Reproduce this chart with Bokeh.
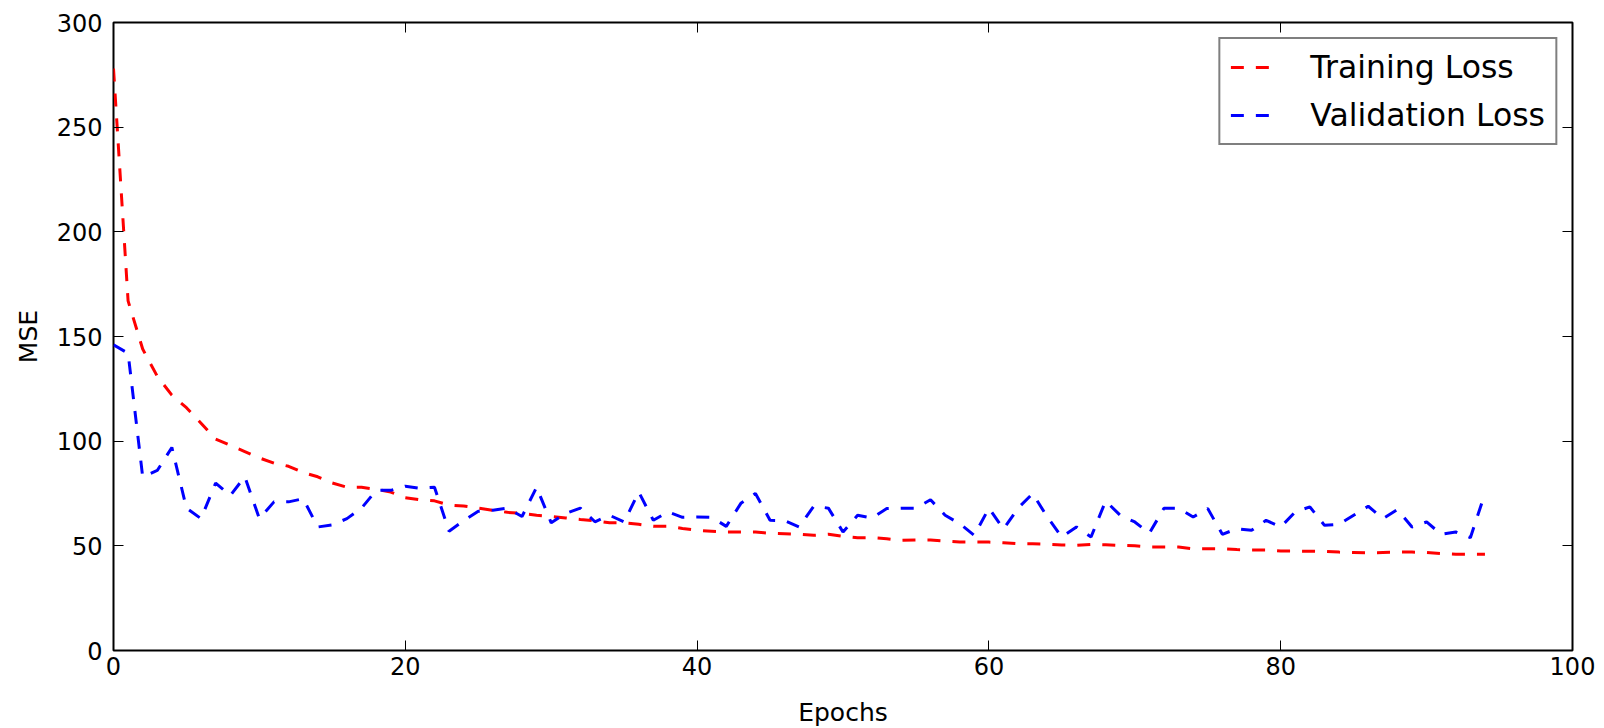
from bokeh.plotting import figure
from bokeh.models import LinearAxis, FixedTicker, Range1d, CustomJSTickFormatter
from bokeh.embed import file_html
from bokeh.resources import INLINE

epochs = list(range(95))
training_loss = [
    278, 167, 144, 131, 122, 116, 108.6, 101, 98, 95,
    92, 89.5, 88, 85, 83, 80, 78, 78, 77, 75.7,
    73, 72, 71.5, 69.5, 69, 68, 67, 66, 65.5, 64.6,
    64, 63.3, 62.6, 62, 61, 61, 60.3, 59.3, 59.3, 58.3,
    57.4, 57, 56.6, 56.6, 56.6, 56, 55.8, 55.5, 55, 55.5,
    54.5, 53.9, 53.9, 53.4, 52.6, 52.8, 52.8, 52.3, 51.8, 51.8,
    51.8, 51.5, 51, 51, 50.8, 50.4, 50.3, 50.7, 50.5, 50.2,
    50, 49.4, 49.4, 49.4, 48.6, 48.6, 48.6, 48.2, 48, 48,
    47.5, 47.5, 47.4, 47.4, 47, 46.8, 46.6, 46.8, 47, 47,
    46.8, 46.3, 46, 46, 46,
]
validation_loss = [
    146, 142, 83, 86, 97, 68, 63, 80, 74, 83,
    63, 71, 71, 72.5, 59, 60, 63, 68, 76.5, 76.5,
    78.5, 77.5, 78, 57, 62, 66.5, 67, 68, 64, 78,
    61, 65.5, 68, 61.5, 64.6, 61.4, 75.7, 62.2, 66.2, 63.6,
    63.8, 63.6, 59.3, 70.3, 75, 62.2, 62, 59, 69, 68,
    56.6, 64.6, 63.3, 67.8, 68, 68, 72, 64.6, 60.6, 55,
    68, 58, 68, 75, 63.8, 54.2, 59, 54.2, 71.4, 64.6,
    61.4, 56, 68, 68, 63.8, 67.8, 55.5, 58.2, 57.4, 62.2,
    59, 66.2, 68.6, 59.8, 60.3, 64.6, 68.9, 63, 67.3, 59,
    61.4, 55.5, 56.6, 53.9, 75,
]
x_ticks = [0, 20, 40, 60, 80, 100]
y_ticks = [0, 50, 100, 150, 200, 250, 300]
x_label = "Epochs"
y_label = "MSE"
series_names = ["Training Loss", "Validation Loss"]

FONT = "DejaVu Sans"

p = figure(
    frame_width=1459, frame_height=628,
    min_border_left=113, min_border_right=24, min_border_top=22, min_border_bottom=76,
    x_range=Range1d(0, 100), y_range=Range1d(0, 300),
    output_backend="svg", toolbar_location=None,
    x_axis_label=x_label, y_axis_label=y_label,
)
p.background_fill_color = "white"
p.border_fill_color = "white"
p.outline_line_color = "black"
p.outline_line_width = 2
p.xgrid.visible = False
p.ygrid.visible = False

p.line(epochs, training_loss, line_color="#ff0000", line_width=3,
       line_dash="13 12", legend_label=series_names[0])
p.line(epochs, validation_loss, line_color="#0000ff", line_width=3,
       line_dash="13 12", legend_label=series_names[1])

bottom_axis = p.below[0]
left_axis = p.left[0]

blank = CustomJSTickFormatter(code="return '';")
p.add_layout(LinearAxis(formatter=blank), "above")
p.add_layout(LinearAxis(formatter=blank), "right")

for ax in p.xaxis:
    ax.ticker = FixedTicker(ticks=x_ticks)
for ax in p.yaxis:
    ax.ticker = FixedTicker(ticks=y_ticks)

for ax in p.axis:
    ax.axis_line_color = None
    ax.major_tick_in = 10
    ax.major_tick_out = 0
    ax.major_tick_line_color = "black"
    ax.major_tick_line_width = 1
    ax.minor_tick_line_color = None
    ax.major_label_text_font = FONT
    ax.major_label_text_font_size = "24px"
    ax.major_label_text_color = "black"
    ax.axis_label_text_font = FONT
    ax.axis_label_text_font_size = "25px"
    ax.axis_label_text_font_style = "normal"
    ax.axis_label_text_color = "black"

bottom_axis.major_label_standoff = 6
bottom_axis.axis_label_standoff = 20
left_axis.major_label_standoff = 11
left_axis.axis_label_standoff = 11

lg = p.legend[0]
lg.location = "top_right"
lg.margin = 15
lg.padding = 10
lg.spacing = 12
lg.glyph_width = 40
lg.glyph_height = 20
lg.label_height = 20
lg.label_standoff = 40
lg.label_text_font = FONT
lg.label_text_font_size = "31.5px"
lg.label_text_color = "black"
lg.border_line_color = "black"
lg.border_line_width = 2
lg.background_fill_color = "white"
lg.background_fill_alpha = 1.0

open("out.html", "w").write(file_html(p, INLINE))
